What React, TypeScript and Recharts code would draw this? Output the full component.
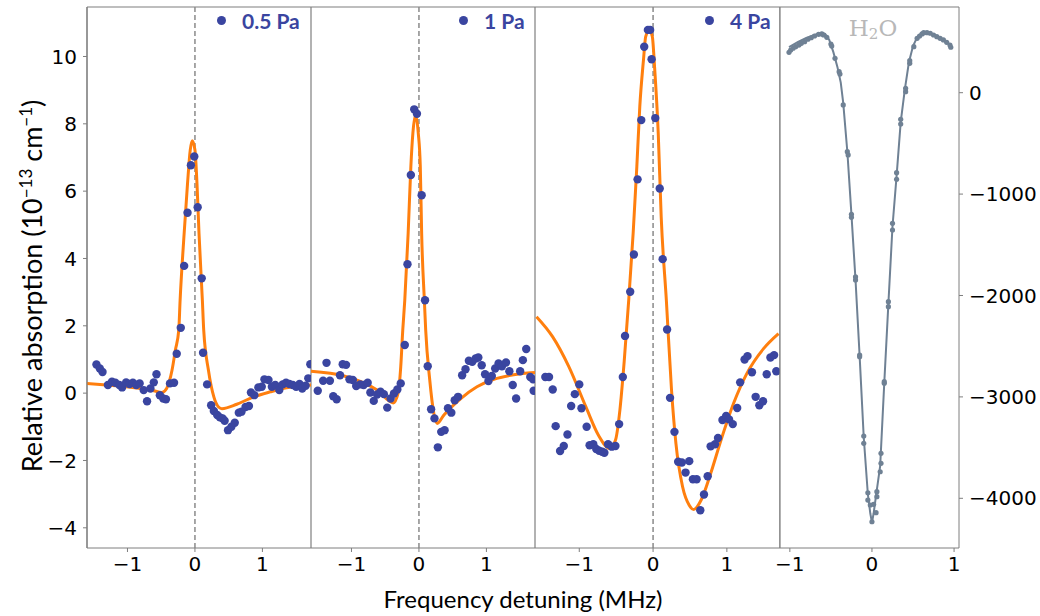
import { ComposedChart, Line, Scatter, XAxis, YAxis, ReferenceLine } from "recharts";

const BLUE = "#3a45a0";
const ORANGE = "#ff7f0e";
const SLATE = "#6f8194";
const SPINE = "#7f7f7f";

const xTicks = [-1, 0, 1];
const leftTicks = [-4, -2, 0, 2, 4, 6, 8, 10];
const rightTicks = [-4000, -3000, -2000, -1000, 0];
const gasDomainX = [-1.6, 1.72];
const gasDomainY = [-4.6, 11.47];
const h2oDomainX = [-1.12, 1.06];
const h2oDomainY = [-4490, 845];

// measured points [detuning MHz, absorption 1e-13 cm^-1]
const pa05Points = [
  [-1.46, 0.85], [-1.41, 0.73], [-1.37, 0.63], [-1.29, 0.24], [-1.23, 0.34], [-1.18, 0.31],
  [-1.12, 0.24], [-1.08, 0.17], [-1.02, 0.32], [-0.97, 0.27], [-0.92, 0.31], [-0.87, 0.24],
  [-0.82, 0.29], [-0.76, 0.09], [-0.71, -0.24], [-0.66, 0.14], [-0.61, 0.32], [-0.57, 0.56],
  [-0.52, -0.06], [-0.47, -0.16], [-0.43, -0.18], [-0.37, 0.29], [-0.31, 0.31], [-0.27, 1.17],
  [-0.21, 1.94], [-0.16, 3.78], [-0.11, 5.36], [-0.06, 6.77], [-0.01, 7.03], [0.04, 5.52],
  [0.1, 3.41], [0.12, 1.2], [0.18, 0.26], [0.24, -0.36], [0.28, -0.53], [0.33, -0.65],
  [0.37, -0.72], [0.41, -0.75], [0.44, -0.82], [0.49, -1.1], [0.54, -1.0], [0.59, -0.88],
  [0.65, -0.58], [0.69, -0.55], [0.75, -0.41], [0.8, -0.38], [0.83, 0.02], [0.88, -0.06],
  [0.94, 0.17], [0.99, 0.19], [1.03, 0.41], [1.09, 0.39], [1.14, 0.19], [1.19, 0.24],
  [1.25, 0.09], [1.3, 0.26], [1.35, 0.31], [1.4, 0.27], [1.45, 0.24], [1.5, 0.19],
  [1.55, 0.27], [1.59, 0.14], [1.64, 0.22], [1.68, 0.44], [1.71, 0.86],
];
const pa05Fit = [
  [-1.6, 0.29], [-1.36, 0.25], [-1.11, 0.21], [-0.86, 0.15], [-0.61, 0.07], [-0.49, 0.02],
  [-0.42, 0.14], [-0.34, 0.68], [-0.29, 1.28], [-0.24, 1.87], [-0.22, 2.76], [-0.16, 4.75],
  [-0.11, 6.23], [-0.07, 7.22], [-0.04, 7.5], [0.0, 7.22], [0.03, 6.23], [0.06, 4.75],
  [0.11, 2.76], [0.13, 1.87], [0.2, 0.68], [0.28, -0.11], [0.35, -0.41], [0.4, -0.46],
  [0.62, -0.33], [0.87, -0.11], [1.12, 0.04], [1.36, 0.16], [1.72, 0.24],
];

const pa1Points = [
  [-1.5, 0.07], [-1.42, 0.37], [-1.37, 0.9], [-1.32, 0.37], [-1.27, -0.09], [-1.22, -0.18],
  [-1.17, 0.53], [-1.13, 0.86], [-1.08, 0.84], [-1.03, 0.41], [-0.98, 0.39], [-0.93, 0.21],
  [-0.87, 0.26], [-0.82, 0.24], [-0.76, 0.31], [-0.72, 0.02], [-0.67, -0.23], [-0.62, -0.04],
  [-0.57, 0.04], [-0.52, -0.03], [-0.47, -0.43], [-0.42, -0.16], [-0.37, -0.01], [-0.32, 0.11],
  [-0.27, 0.29], [-0.21, 1.43], [-0.17, 3.83], [-0.12, 6.48], [-0.07, 8.43], [-0.03, 8.3],
  [0.04, 5.88], [0.09, 2.76], [0.13, 0.8], [0.18, -0.48], [0.23, -0.75], [0.28, -1.61],
  [0.33, -1.15], [0.38, -1.1], [0.43, -0.45], [0.48, -0.58], [0.53, -0.21], [0.58, -0.11],
  [0.64, 0.53], [0.69, 0.71], [0.74, 0.96], [0.79, 0.93], [0.84, 1.03], [0.88, 1.06],
  [0.93, 0.83], [0.98, 0.56], [1.03, 0.36], [1.08, 0.51], [1.13, 0.73], [1.18, 0.88],
  [1.23, 0.8], [1.29, 0.91], [1.34, 0.65], [1.39, 0.24], [1.44, -0.16], [1.5, 0.65],
  [1.54, 0.98], [1.59, 1.31], [1.65, 0.48], [1.69, 0.41], [1.7, 0.07],
];
const pa1Fit = [
  [-1.6, 0.65], [-1.11, 0.51], [-0.86, 0.34], [-0.62, 0.09], [-0.38, -0.29], [-0.31, -0.01],
  [-0.27, 0.78], [-0.24, 1.87], [-0.21, 2.76], [-0.16, 4.75], [-0.12, 6.73], [-0.09, 7.72],
  [-0.05, 8.26], [-0.01, 7.72], [0.02, 6.73], [0.04, 4.75], [0.08, 2.76], [0.1, 1.87],
  [0.16, 0.39], [0.22, -0.6], [0.27, -0.9], [0.37, -0.65], [0.62, -0.16], [0.86, 0.19],
  [1.11, 0.41], [1.36, 0.53], [1.72, 0.61],
];

const pa4Points = [
  [-1.46, 0.48], [-1.41, 0.48], [-1.36, 0.11], [-1.32, -0.98], [-1.26, -1.72], [-1.21, -1.57],
  [-1.16, -1.23], [-1.11, -0.38], [-1.06, -0.03], [-1.0, 0.26], [-0.97, -0.45], [-0.9, -1.0],
  [-0.86, -1.55], [-0.81, -1.52], [-0.77, -1.66], [-0.73, -1.71], [-0.69, -1.74], [-0.66, -1.77],
  [-0.61, -1.52], [-0.56, -1.59], [-0.51, -1.57], [-0.46, -0.92], [-0.41, 0.48], [-0.38, 1.7],
  [-0.31, 3.01], [-0.26, 4.12], [-0.21, 6.35], [-0.16, 8.11], [-0.12, 10.29], [-0.07, 10.79],
  [-0.04, 10.79], [-0.02, 9.92], [0.03, 8.17], [0.09, 6.08], [0.13, 3.98], [0.19, 1.89],
  [0.23, -0.14], [0.29, -1.15], [0.34, -2.04], [0.39, -2.06], [0.44, -2.36], [0.49, -2.02],
  [0.54, -2.56], [0.59, -2.56], [0.64, -3.48], [0.69, -3.01], [0.74, -2.47], [0.78, -1.58],
  [0.84, -1.52], [0.88, -1.33], [0.94, -0.8], [0.99, -0.68], [1.03, -0.78], [1.08, -0.92],
  [1.14, -0.44], [1.18, 0.32], [1.24, 1.0], [1.28, 1.1], [1.34, 0.62], [1.39, -0.11],
  [1.44, -0.36], [1.49, -0.24], [1.54, 0.56], [1.59, 1.06], [1.64, 1.13], [1.67, 0.65],
];
const pa4Fit = [
  [-1.58, 2.27], [-1.36, 1.67], [-1.14, 0.78], [-0.91, -0.41], [-0.74, -1.25], [-0.59, -1.64],
  [-0.51, -1.4], [-0.45, -0.51], [-0.39, 0.98], [-0.33, 2.76], [-0.27, 4.75], [-0.22, 6.73],
  [-0.18, 8.51], [-0.13, 9.9], [-0.1, 10.59], [-0.05, 10.79], [-0.01, 10.59], [0.02, 9.7],
  [0.07, 7.72], [0.11, 5.24], [0.18, 2.76], [0.25, 0.09], [0.31, -1.5], [0.4, -2.78],
  [0.49, -3.33], [0.55, -3.46], [0.65, -3.18], [0.78, -2.39], [0.92, -1.4], [1.09, -0.31],
  [1.27, 0.58], [1.5, 1.33], [1.7, 1.77],
];

const h2oPoints = [
  [-1.01, 398], [-0.99, 421], [-0.96, 438], [-0.93, 454], [-0.89, 470], [-0.86, 487],
  [-0.82, 503], [-0.78, 527], [-0.74, 542], [-0.7, 559], [-0.65, 576], [-0.61, 579],
  [-0.59, 569], [-0.55, 546], [-0.5, 480], [-0.49, 460], [-0.45, 339], [-0.4, 207],
  [-0.39, 184], [-0.35, -121], [-0.3, -582], [-0.29, -614], [-0.25, -1199], [-0.25, -1229],
  [-0.2, -1815], [-0.2, -1846], [-0.15, -2587], [-0.15, -2603], [-0.1, -3386], [-0.1, -3458],
  [-0.05, -3945], [-0.05, -4017], [-0.02, -4066], [0.0, -4231], [0.02, -4059], [0.05, -4142],
  [0.06, -3984], [0.06, -3935], [0.1, -3738], [0.11, -3655], [0.11, -3556], [0.15, -2866],
  [0.15, -2850], [0.2, -2110], [0.2, -2061], [0.25, -1354], [0.25, -1288], [0.3, -854],
  [0.3, -789], [0.35, -309], [0.35, -263], [0.41, 10], [0.41, 43], [0.46, 290],
  [0.46, 316], [0.51, 454], [0.55, 536], [0.58, 559], [0.61, 579], [0.63, 592],
  [0.67, 592], [0.71, 586], [0.75, 569], [0.79, 552], [0.83, 536], [0.87, 520],
  [0.91, 497], [0.95, 470], [0.96, 448],
];
const h2oFit = [
  [-1.01, 450], [-0.9, 500], [-0.8, 540], [-0.7, 570], [-0.62, 590], [-0.57, 580],
  [-0.52, 520], [-0.47, 400], [-0.42, 250], [-0.38, 100], [-0.35, -100], [-0.3, -580],
  [-0.25, -1200], [-0.2, -1850], [-0.15, -2600], [-0.1, -3400], [-0.05, -3960], [-0.02, -4150],
  [0.0, -4240], [0.02, -4150], [0.05, -3970], [0.1, -3680], [0.15, -2860], [0.2, -2080],
  [0.25, -1320], [0.3, -820], [0.35, -290], [0.4, 30], [0.45, 300], [0.5, 460],
  [0.55, 545], [0.6, 585], [0.65, 595], [0.7, 590], [0.8, 550], [0.9, 505], [0.96, 460],
];

const fmt = (v: number) => (v < 0 ? `\u2212${Math.abs(v)}` : String(v));
const toXY = (arr: number[][]) => arr.map(([x, y]) => ({ x, y }));
const tickStyle = { fill: "#000", fontSize: 20, fontFamily: "DejaVu Sans" };
const CHART_H = 590;

function BlueDot(props: any) {
  return <circle cx={props.cx} cy={props.cy} r={4.2} fill={BLUE} />;
}
function SlateDot(props: any) {
  return <circle cx={props.cx} cy={props.cy} r={2.6} fill={SLATE} />;
}

function Tag({ left, text }: { left: number; text: string }) {
  return (
    <div
      style={{
        position: "absolute",
        left,
        top: 8,
        display: "flex",
        alignItems: "center",
        color: BLUE,
        fontFamily: "Lato",
        fontWeight: 700,
        fontSize: 21,
      }}
    >
      <span style={{ width: 9, height: 9, borderRadius: "50%", background: BLUE, marginRight: 16 }} />
      {text}
    </div>
  );
}

function GasPanel({ left, width, yWidth, points, fit }: any) {
  return (
    <div style={{ position: "absolute", left, top: 0 }}>
      <ComposedChart width={width} height={CHART_H} margin={{ top: 7, right: 0, bottom: 0, left: 0 }}>
        <XAxis
          dataKey="x"
          type="number"
          domain={gasDomainX}
          allowDataOverflow
          ticks={xTicks}
          interval={0}
          tickFormatter={fmt}
          tick={tickStyle}
          height={42}
          tickSize={4}
          tickMargin={5}
          stroke={SPINE}
        />
        <YAxis
          type="number"
          domain={gasDomainY}
          allowDataOverflow
          ticks={leftTicks}
          interval={0}
          width={yWidth}
          hide={!yWidth}
          tick={tickStyle}
          tickFormatter={fmt}
          tickSize={4}
          tickMargin={6}
          stroke={SPINE}
        />
        <ReferenceLine x={gasDomainX[0]} stroke={SPINE} strokeWidth={1.2} ifOverflow="visible" />
        <ReferenceLine x={gasDomainX[1]} stroke={SPINE} strokeWidth={1.2} ifOverflow="visible" />
        <ReferenceLine y={gasDomainY[1]} stroke={SPINE} strokeWidth={1.2} ifOverflow="visible" />
        <ReferenceLine x={0} stroke="#8a8a8a" strokeDasharray="5 3" strokeWidth={1.5} />
        <Line data={toXY(fit)} dataKey="y" type="monotone" stroke={ORANGE} strokeWidth={3} dot={false} isAnimationActive={false} />
        <Scatter data={toXY(points)} dataKey="y" fill={BLUE} shape={BlueDot} isAnimationActive={false} />
      </ComposedChart>
    </div>
  );
}

export default function App() {
  return (
    <div style={{ position: "fixed", left: 0, top: 0, width: 1040, height: 616, background: "#fff", overflow: "hidden" }}>
      <GasPanel left={0} width={311} yWidth={87} points={pa05Points} fit={pa05Fit} />
      <GasPanel left={311} width={224} yWidth={0} points={pa1Points} fit={pa1Fit} />
      <GasPanel left={535} width={245} yWidth={0} points={pa4Points} fit={pa4Fit} />
      <div style={{ position: "absolute", left: 760, top: 0 }}>
        <ComposedChart width={280} height={CHART_H} margin={{ top: 7, right: 0, bottom: 0, left: 20 }}>
          <XAxis
            dataKey="x"
            type="number"
            domain={h2oDomainX}
            allowDataOverflow
            ticks={xTicks}
            interval={0}
            tickFormatter={fmt}
            tick={tickStyle}
            height={42}
            tickSize={4}
            tickMargin={5}
            stroke={SPINE}
          />
          <YAxis
            orientation="right"
            type="number"
            domain={h2oDomainY}
            allowDataOverflow
            ticks={rightTicks}
            interval={0}
            width={81}
            tick={tickStyle}
            tickFormatter={fmt}
            tickSize={4}
            tickMargin={6}
            stroke={SPINE}
          />
          <ReferenceLine x={h2oDomainX[0]} stroke={SPINE} strokeWidth={1.2} ifOverflow="visible" />
          <ReferenceLine y={h2oDomainY[1]} stroke={SPINE} strokeWidth={1.2} ifOverflow="visible" />
          <Line data={toXY(h2oFit)} dataKey="y" type="linear" stroke={SLATE} strokeWidth={2} dot={false} isAnimationActive={false} />
          <Scatter data={toXY(h2oPoints)} dataKey="y" fill={SLATE} shape={SlateDot} isAnimationActive={false} />
        </ComposedChart>
      </div>
      <Tag left={217} text="0.5 Pa" />
      <Tag left={459} text="1 Pa" />
      <Tag left={705} text="4 Pa" />
      <div
        style={{
          position: "absolute",
          left: 873,
          top: 29,
          transform: "translate(-50%, -50%)",
          color: "#b8b8b8",
          fontFamily: "DejaVu Serif",
          fontSize: 23,
          whiteSpace: "nowrap",
        }}
      >
        H<sub style={{ fontSize: 15, verticalAlign: "-0.25em" }}>2</sub>O
      </div>
      <div
        style={{
          position: "absolute",
          left: 523,
          top: 598,
          transform: "translate(-50%, -50%)",
          fontFamily: "Lato",
          fontSize: 24,
          color: "#000",
          whiteSpace: "nowrap",
        }}
      >
        Frequency detuning (MHz)
      </div>
      <div
        style={{
          position: "absolute",
          left: 31,
          top: 286,
          transform: "translate(-50%, -50%) rotate(-90deg)",
          fontFamily: "Lato",
          fontSize: 27,
          color: "#000",
          whiteSpace: "nowrap",
        }}
      >
        Relative absorption (10
        <sup style={{ fontSize: 17, verticalAlign: "0.55em" }}>{"\u221213"}</sup> cm
        <sup style={{ fontSize: 17, verticalAlign: "0.55em" }}>{"\u22121"}</sup>)
      </div>
    </div>
  );
}
